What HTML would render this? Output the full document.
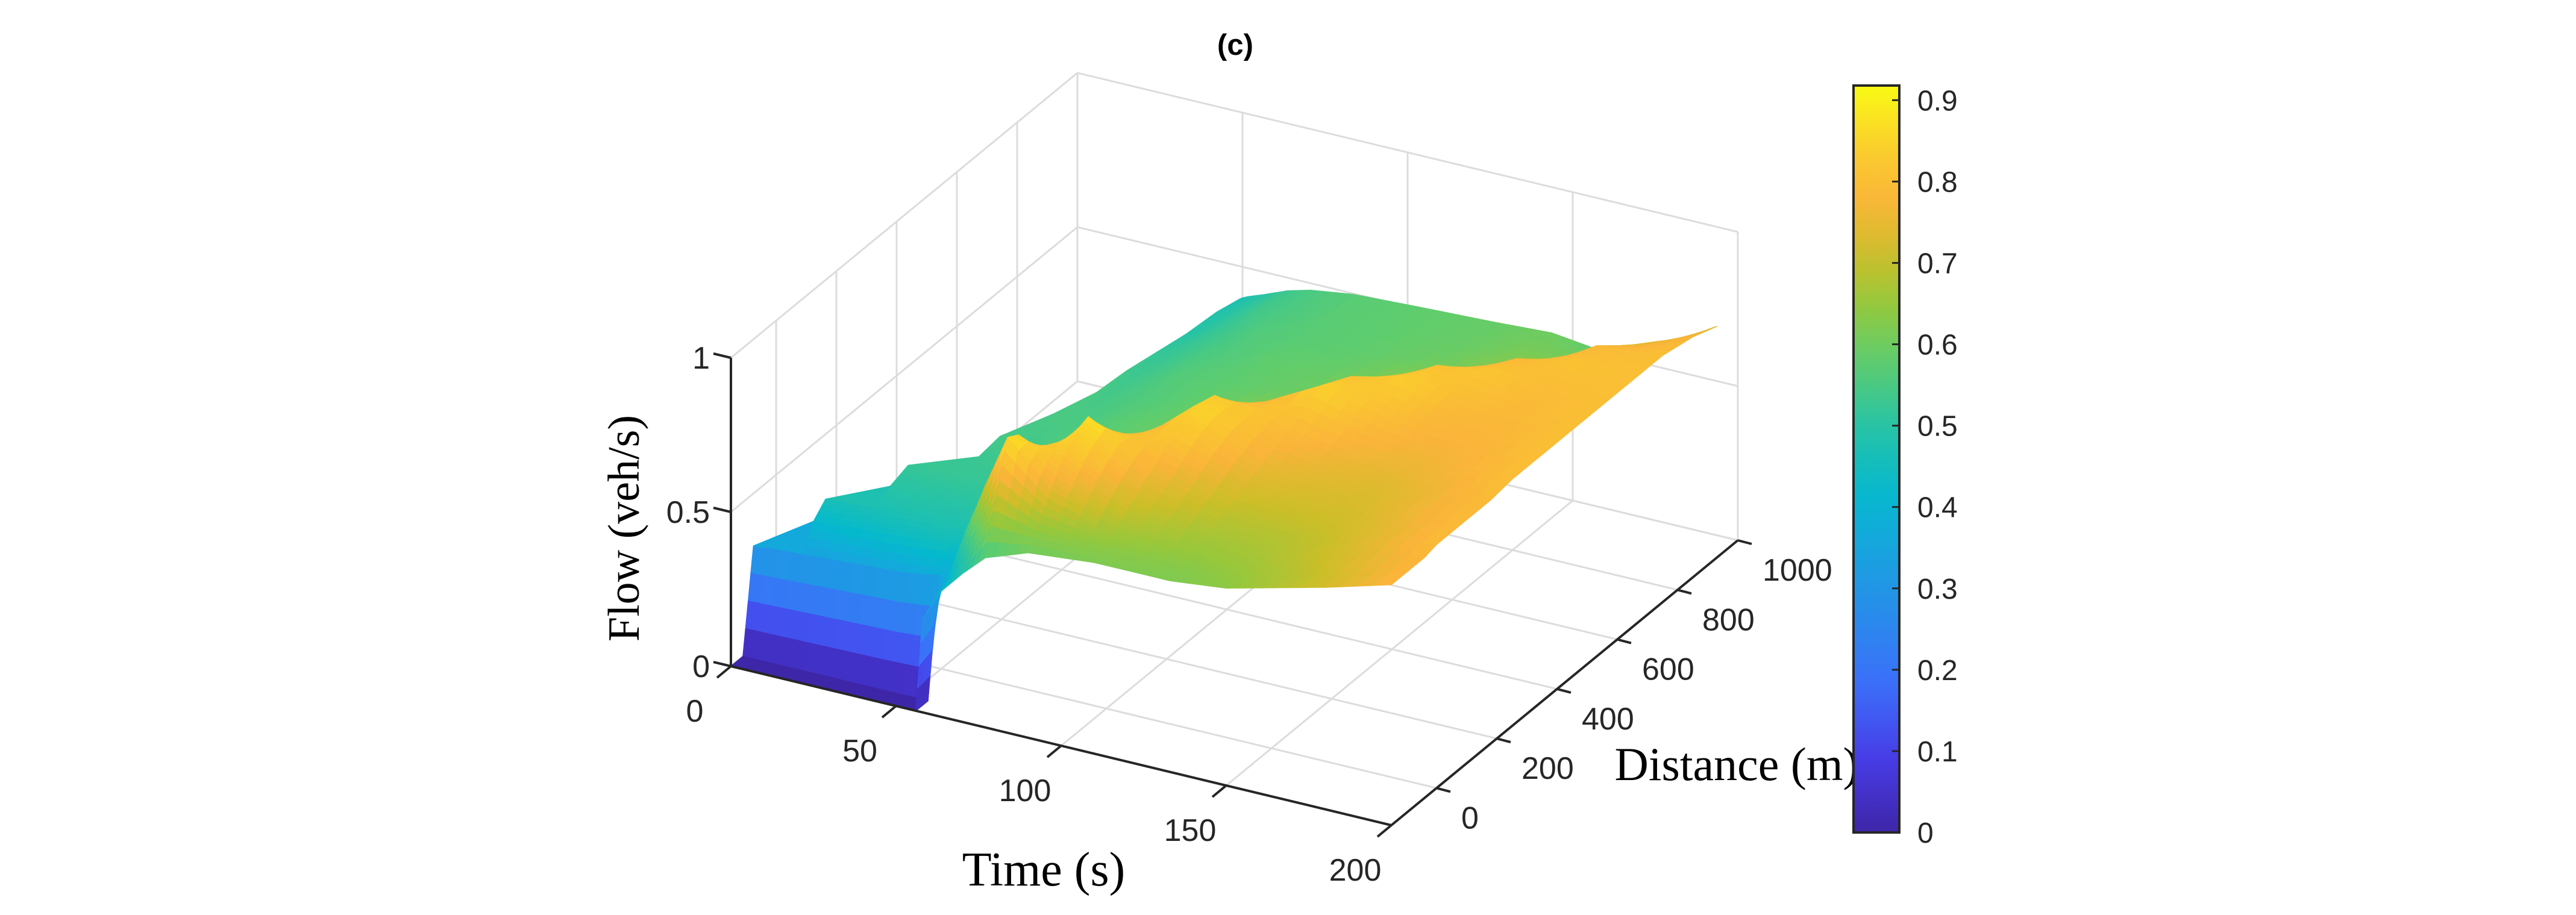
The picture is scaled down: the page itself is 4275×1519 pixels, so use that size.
<!DOCTYPE html>
<html><head><meta charset="utf-8"><title>Flow surface (c)</title>
<style>
html,body{margin:0;padding:0;background:#fff;}
svg{display:block;}
.tk{font-family:"Liberation Sans",Arial,sans-serif;font-size:52px;fill:#262626;}
.cb{font-family:"Liberation Sans",Arial,sans-serif;font-size:48px;fill:#262626;}
.al{font-family:"Liberation Serif","Times New Roman",serif;font-size:80px;fill:#000;}
</style></head>
<body>
<svg id="chart" width="4275" height="1519" viewBox="0 0 4275 1519" xmlns="http://www.w3.org/2000/svg">
  <defs>
    <linearGradient id="parula" x1="0" y1="1" x2="0" y2="0"></linearGradient>
  </defs>
  <rect width="4275" height="1519" fill="#fff"/>
  <g id="grid"></g>
  <g id="surface"></g>
  <g id="axes"></g>
  <text x="2050" y="91" text-anchor="middle" style="font-family:'Liberation Sans',Arial,sans-serif;font-weight:bold;font-size:49px;fill:#000">(c)</text>
  <text x="1732" y="1470" text-anchor="middle" class="al">Time (s)</text>
  <text x="2882" y="1295" text-anchor="middle" class="al" style="font-size:78px">Distance (m)</text>
  <text x="1060" y="877" text-anchor="middle" class="al" style="font-size:74px" transform="rotate(-90 1060 877)">Flow (veh/s)</text>
  <g id="colorbar"></g>
</svg>
<script>
// ---- data ----
const times = [0,15,30,45,52,56,58,63,70,77,90,110,133,150,165,180,200];
const distances = [-150,-110,-75,-40,0,50,110,180,250,350,450,550,650,750,850,930];
const flow = [
[0,0,.33,0,0,0,0,0,0,0,0,0,0,0,0,0],
[0,0,.34,.42,.46,0,0,0,0,0,0,0,0,0,0,0],
[0,0,.35,.43,.47,.50,.52,0,0,0,0,0,0,0,0,0],
[0,0,.36,.44,.48,.50,.52,.53,.54,0,0,0,0,0,0,0],
[0,0,.37,.45,.48,.50,.52,.53,.54,.55,0,0,0,0,0,0],
[0,0,.38,.45,.48,.50,.52,.53,.54,.55,.55,.54,.52,.50,.49,.47],
[.30,.33,.36,.42,.48,.52,.54,.55,.55,.55,.54,.53,.52,.50,.49,.48],
[.40,.42,.50,.56,.56,.56,.56,.56,.56,.55,.55,.54,.53,.52,.51,.50],
[.48,.55,.70,.72,.66,.60,.58,.57,.57,.57,.56,.56,.55,.54,.54,.53],
[.55,.72,.88,.86,.78,.68,.62,.59,.58,.58,.57,.57,.56,.56,.55,.55],
[.60,.66,.74,.80,.85,.88,.78,.68,.62,.60,.59,.58,.58,.57,.57,.57],
[.62,.64,.67,.70,.73,.77,.82,.86,.84,.72,.64,.60,.59,.58,.58,.58],
[.62,.63,.65,.66,.68,.70,.73,.76,.79,.85,.80,.70,.63,.60,.59,.59],
[.64,.65,.66,.67,.68,.70,.72,.74,.76,.80,.84,.80,.70,.63,.61,.60],
[.68,.68,.69,.70,.70,.71,.72,.73,.75,.77,.79,.82,.78,.68,.61,.58],
[.72,.72,.73,.73,.74,.74,.75,.75,.76,.77,.78,.79,.81,.78,.70,.62],
[.78,.78,.78,.78,.79,.79,.79,.79,.80,.80,.80,.80,.80,.80,.78,.75]
];
const timeTicks = [0,50,100,150,200];
const distTicks = [0,200,400,600,800,1000];
const flowTicks = [0,0.5,1];
const flowTickLabels = ["0","0.5","1"];
const cbTicks = [0,0.1,0.2,0.3,0.4,0.5,0.6,0.7,0.8,0.9];
const cbTickLabels = ["0","0.1","0.2","0.3","0.4","0.5","0.6","0.7","0.8","0.9"];
const cMin = 0, cMax = 0.918;

// ---- axes / projection ----
const tMin=0,tMax=200,dMin=-150,dMax=1000,zMin=0,zMax=1;
const O=[1213,1106], TV=[1096,264], DV=[575,-473], ZV=[0,-512];
function P(t,d,z){
  const a=(t-tMin)/(tMax-tMin), b=(d-dMin)/(dMax-dMin), c=(z-zMin)/(zMax-zMin);
  return [O[0]+a*TV[0]+b*DV[0]+c*ZV[0], O[1]+a*TV[1]+b*DV[1]+c*ZV[1]];
}
const NS="http://www.w3.org/2000/svg";
function mk(tag,attrs,parent){const e=document.createElementNS(NS,tag);for(const k in attrs)e.setAttribute(k,attrs[k]);parent.appendChild(e);return e;}

// parula-like colormap
const cstops=[[0,62,38,168],[.09,71,60,230],[.18,60,110,250],[.27,40,140,235],[.36,20,168,220],[.42,5,185,205],[.5,40,195,165],[.58,95,205,110],[.65,150,200,60],[.71,205,190,40],[.77,250,180,58],[.84,250,205,45],[.918,249,250,20]];
function cmap(v){
  const f=Math.max(0,Math.min(1,(v-cMin)/(cMax-cMin)))*0.918;
  for(let i=1;i<cstops.length;i++){
    if(f<=cstops[i][0]){const a=cstops[i-1],b=cstops[i],u=(f-a[0])/(b[0]-a[0]);
      return `rgb(${Math.round(a[1]+u*(b[1]-a[1]))},${Math.round(a[2]+u*(b[2]-a[2]))},${Math.round(a[3]+u*(b[3]-a[3]))})`;}
  }
  const l=cstops[cstops.length-1];return `rgb(${l[1]},${l[2]},${l[3]})`;
}
const pt=p=>p[0].toFixed(1)+','+p[1].toFixed(1);

// ---- grid ----
const grid=document.getElementById('grid');
const gs={stroke:'#dcdcdc','stroke-width':3,fill:'none'};
function gline(a,b,name){const l=mk('line',Object.assign({x1:a[0],y1:a[1],x2:b[0],y2:b[1]},gs),grid);
  
  }
timeTicks.forEach(t=>{gline(P(t,dMin,0),P(t,dMax,0),'floor-grid-time');gline(P(t,dMax,0),P(t,dMax,zMax),'back-grid-time');});
distTicks.forEach(d=>{gline(P(tMin,d,0),P(tMax,d,0),'floor-grid-distance');gline(P(tMin,d,0),P(tMin,d,zMax),'side-grid-distance');});
flowTicks.forEach(z=>{gline(P(tMin,dMin,z),P(tMin,dMax,z),'side-grid-flow');gline(P(tMin,dMax,z),P(tMax,dMax,z),'back-grid-flow');});
gline(P(tMin,dMax,0),P(tMin,dMax,zMax),'back-corner-line');

// ---- surface ----
const surf=document.getElementById('surface');
const SUB=4, quads=[];
function bil(i,j,u,v){return flow[i][j]*(1-u)*(1-v)+flow[i+1][j]*u*(1-v)+flow[i][j+1]*(1-u)*v+flow[i+1][j+1]*u*v;}
const EPS=0.02;
for(let i=0;i<times.length-1;i++){
  for(let j=0;j<distances.length-1;j++){
    const c00=flow[i][j],c10=flow[i+1][j],c01=flow[i][j+1],c11=flow[i+1][j+1];
    const dcell=(distances[j]+distances[j+1])/2;
    const anyZero=Math.min(c00,c10,c01,c11)<EPS;
    if(anyZero && dcell>-75){
      // front cell: split along diagonal, keep only fully-populated triangles
      const A=[times[i],distances[j],c00],B=[times[i+1],distances[j],c10],
            C=[times[i+1],distances[j+1],c11],D=[times[i],distances[j+1],c01];
      [[A,B,C],[A,C,D]].forEach(tri=>{
        if(Math.min(tri[0][2],tri[1][2],tri[2][2])<EPS) return;
        const ps=tri.map(v=>P(v[0],v[1],v[2]));
        const tc=(tri[0][0]+tri[1][0]+tri[2][0])/3, dc=(tri[0][1]+tri[1][1]+tri[2][1])/3;
        quads.push({ps,z:(tri[0][2]+tri[1][2]+tri[2][2])/3,key:P(tc,dc,0)[1]});
      });
      continue;
    }
    for(let a=0;a<SUB;a++)for(let b=0;b<SUB;b++){
      const u0=a/SUB,u1=(a+1)/SUB,v0=b/SUB,v1=(b+1)/SUB;
      const tt=u=>times[i]+u*(times[i+1]-times[i]);
      const dd=v=>distances[j]+v*(distances[j+1]-distances[j]);
      const z00=bil(i,j,u0,v0),z10=bil(i,j,u1,v0),z11=bil(i,j,u1,v1),z01=bil(i,j,u0,v1);
      const ps=[P(tt(u0),dd(v0),z00),P(tt(u1),dd(v0),z10),P(tt(u1),dd(v1),z11),P(tt(u0),dd(v1),z01)];
      const fc=P(tt((u0+u1)/2),dd((v0+v1)/2),0);
      quads.push({ps,z:(z00+z10+z11+z01)/4,key:fc[1]});
    }
  }
}
quads.sort((p,q)=>p.key-q.key);
quads.forEach(q=>{
  const c=cmap(q.z);
  const el=mk('polygon',{points:q.ps.map(pt).join(' '),fill:c,stroke:c,'stroke-width':1.6,'stroke-linejoin':'round'},surf);
  
  
});

// ---- axes lines, ticks, labels ----
const ax=document.getElementById('axes');
const as={stroke:'#262626','stroke-width':4,fill:'none'};
function aline(a,b,name){const l=mk('line',Object.assign({x1:a[0],y1:a[1],x2:b[0],y2:b[1]},as),ax);
  
  }
function label(x,y,txt,anchor,cls,name){const t=mk('text',{x:x,y:y,'text-anchor':anchor,class:cls},ax);t.textContent=txt;
  
  }
aline(P(tMin,dMin,0),P(tMin,dMin,zMax),'z-axis-line');
aline(P(tMin,dMin,0),P(tMax,dMin,0),'x-axis-line');
aline(P(tMax,dMin,0),P(tMax,dMax,0),'y-axis-line');
flowTicks.forEach((z,k)=>{const p=P(tMin,dMin,z);aline(p,[p[0]-29,p[1]-7],'z-tick');
  label(1178,p[1]+18,flowTickLabels[k],'end','tk','z-tick-label');});
timeTicks.forEach(t=>{const p=P(t,dMin,0);aline(p,[p[0]-23,p[1]+19],'x-tick');
  label(p[0]-60,p[1]+92,String(t),'middle','tk','x-tick-label');});
distTicks.forEach(d=>{const p=P(tMax,d,0);aline(p,[p[0]+23,p[1]+6],'y-tick');
  label(p[0]+41,p[1]+67,String(d),'start','tk','y-tick-label');});

// ---- colorbar ----
const cb=document.getElementById('colorbar');
const grad=document.getElementById('parula');
for(let k=0;k<=20;k++){const v=cMin+(cMax-cMin)*k/20;mk('stop',{offset:(k/20).toFixed(3),'stop-color':cmap(v)},grad);}
const cbX0=3076,cbX1=3152,cbY0=142,cbY1=1382;
const cy=v=>cbY1-(v-cMin)/(cMax-cMin)*(cbY1-cbY0);
const bar=mk('rect',{x:cbX0,y:cbY0,width:cbX1-cbX0,height:cbY1-cbY0,fill:'url(#parula)',stroke:'#262626','stroke-width':4},cb);


cbTicks.forEach((v,k)=>{const y=cy(v);
  const l=mk('line',{x1:cbX1-12,y1:y,x2:cbX1,y2:y,stroke:'#262626','stroke-width':3},cb);
  
  
  const t=mk('text',{x:3182,y:y+17,class:'cb'},cb);t.textContent=cbTickLabels[k];
  
  
});
</script>
</body></html>
